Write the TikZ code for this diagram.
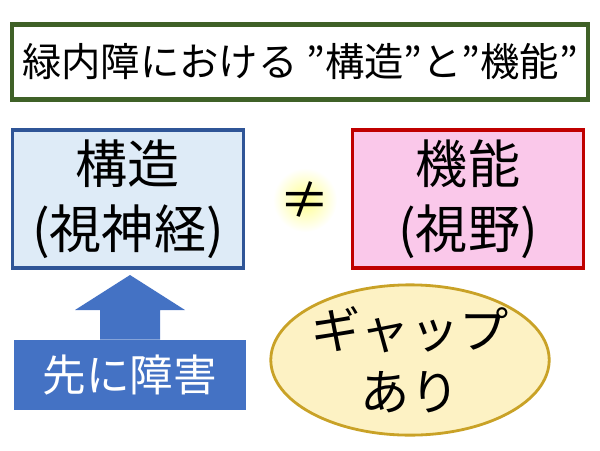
\documentclass[tikz,border=0pt]{standalone}
\usepackage{fontspec}
\setmainfont{Noto Sans CJK JP}
\usetikzlibrary{positioning, shapes.geometric}
\definecolor{titlegreen}{HTML}{3F6127}
\definecolor{structblue}{HTML}{2F5597}
\definecolor{structfill}{HTML}{DEEBF7}
\definecolor{funcred}{HTML}{C00000}
\definecolor{funcfill}{HTML}{FAC8EA}
\definecolor{arrowblue}{HTML}{4472C4}
\definecolor{gapfill}{HTML}{FDF2C4}
\definecolor{gapline}{HTML}{C9A227}
\tikzset{
    % boxes
    kbox/.style={
           rectangle,
           draw, line width=2.5pt,
           minimum width=5.775cm, minimum height=3.45cm,
           align=center, font=\fontsize{37}{46}\selectfont},
    % title box
    tbox/.style={
           rectangle,
           draw=titlegreen, line width=3pt, fill=white,
           minimum width=14.4cm, minimum height=1.875cm,
           font=\fontsize{28}{32}\selectfont}
}
\begin{document}
\begin{tikzpicture}[x=0.025cm, y=-0.025cm]
\useasboundingbox (0,0) rectangle (600,450);

% title
\node[tbox] (title) at (300,62) {緑内障における ”構造”と”機能”};

% structure and function
\node[kbox, draw=structblue, fill=structfill] (kozo) at (128,199) {構造\\(視神経)};
\node[kbox, draw=funcred, fill=funcfill] (kino) at (468,199) {機能\\(視野)};
\shade[inner color=yellow!45, outer color=white] (305,200) circle (32);
\node[font=\fontsize{36}{40}\selectfont] (neq) at (305,200) {≠};

% damage first
\node[rectangle, fill=arrowblue, minimum width=5.8cm, minimum height=1.75cm, text=white,
      font=\fontsize{31}{36}\selectfont] (dmg) at (130,375) {先に障害};
\coordinate (tip) at (130,275);
\fill[arrowblue] (dmg.north -| 100,0) -- (100,310) -- (75,310) -- (tip)
      -- (185,310) -- (160,310) -- (dmg.north -| 160,0) -- cycle;

% gap
\node[ellipse, draw=gapline, line width=2pt, fill=gapfill, minimum width=5.45cm,
      minimum height=3.1cm, inner sep=0pt, align=center, font=\fontsize{35}{44}\selectfont] (gap) at (410,360) {ギャップ\\あり};
\end{tikzpicture}
\end{document}
